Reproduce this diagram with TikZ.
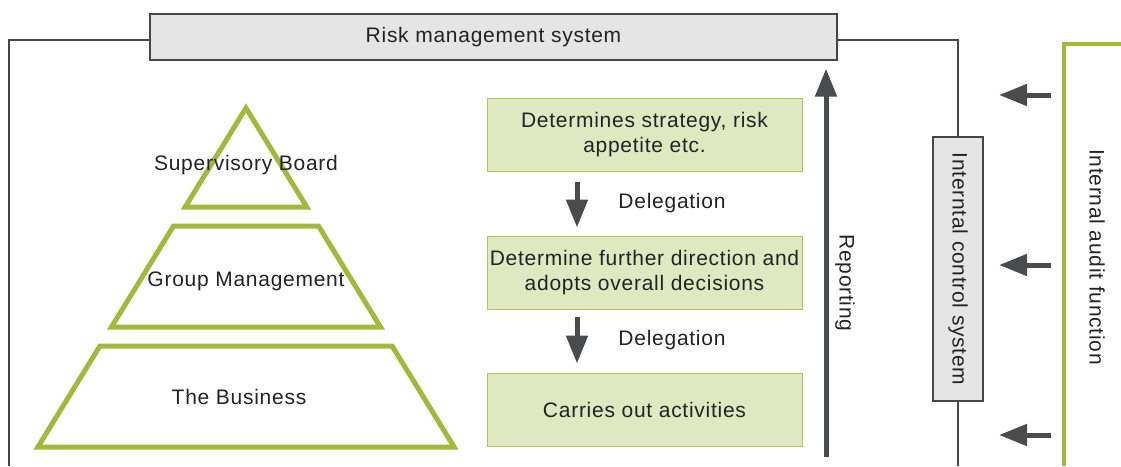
\documentclass[tikz,border=0pt]{standalone}
\usepackage{fontspec}
\setmainfont[LetterSpace=3.5]{Liberation Sans}
\usetikzlibrary{arrows.meta,positioning}

\definecolor{boxgray}{RGB}{228,229,228}
\definecolor{framegray}{RGB}{70,70,70}
\definecolor{leafgreen}{RGB}{224,232,193}
\definecolor{leafborder}{RGB}{175,195,95}
\definecolor{auditgreen}{RGB}{163,185,62}
\definecolor{arrowgray}{RGB}{74,75,77}
\definecolor{textgray}{RGB}{35,35,35}

\begin{document}
\begin{tikzpicture}[x=1pt, y=-1pt, font=\fontsize{21}{25.5}\selectfont, text=textgray,
  graybox/.style  = {draw=framegray, line width=1.3pt, fill=boxgray, inner sep=0pt},
  greenbox/.style = {draw=leafborder, line width=1pt, fill=leafgreen, inner sep=0pt,
                     minimum width=315pt, minimum height=73pt, align=center},
  fatarrow/.style = {draw=arrowgray, line width=5pt, -{Triangle[width=21pt, length=28pt]}},
  frameline/.style = {draw=framegray, line width=1.3pt},
  level/.style    = {draw=auditgreen, line width=5pt, line join=miter}]

% The page is the size of the reference, everything else is cut to it
\useasboundingbox (0,0) rectangle (1121,466);
\clip (0,0) rectangle (1121,466);

% Reference points (pixels of the reference, measured from the top left corner)
\coordinate (left corner)  at (9, 40);
\coordinate (left foot)    at (9, 466);
\coordinate (right corner) at (958, 40);
\coordinate (right foot)   at (958, 466);
\coordinate (audit corner) at (1064, 44);
\coordinate (audit foot)   at (1064, 466);
\coordinate (audit end)    at (1121, 44);
\coordinate (report foot)  at (826, 457);
\coordinate (deleg axis)   at (577, 0);

% Boxes of the framework
\node[graybox, minimum width=687pt, minimum height=46pt] (risk) at (493.5, 37) {Risk management system};
% (rotated: its west anchor is the top, its east anchor the bottom)
\node[graybox, rotate=-90, minimum width=264pt, minimum height=50pt] (ics) at (958, 269) {Interntal control system};

% Frame lines round the picture
\draw[frameline] (risk.west |- left corner) -- (left corner) -- (left foot);
\draw[frameline] (risk.east |- right corner) -- (right corner) -- (ics.west);
\draw[frameline] (ics.east) -- (right foot);

% Internal audit
\draw[level, line width=4pt] (audit foot) -- (audit corner) -- (audit end);
\node[rotate=-90] (audit) at (1097, 257) {Internal audit function};
\foreach \i/\y in {1/95, 2/265, 3/435} {
  \coordinate (audit tail \i) at (1051, \y);
  \coordinate (audit tip \i)  at (999, \y);
  \draw[fatarrow] (audit tail \i) -- (audit tip \i);
}

% The pyramid (three slices of one triangle)
\draw[level] (246,108) -- (306.8,207) -- (185.2,207) -- cycle;
\draw[level] (173.5,226) -- (318.5,226) -- (380.5,327) -- (111.5,327) -- cycle;
\draw[level] (99.9,346) -- (392.1,346) -- (454.1,447) -- (37.9,447) -- cycle;
\node (sup board)  at (246, 165) {Supervisory Board};
\node (group mgmt) at (246, 281) {Group Management};
\node (business)   at (239, 397) {The Business};

% Tasks and delegation
\node[greenbox] (strategy)  at (644.5, 134.5) {Determines strategy, risk\\appetite etc.};
\node[greenbox] (direction) at (644.5, 272.5) {Determine further direction and\\adopts overall decisions};
\node[greenbox] (activity)  at (644.5, 409.5) {Carries out activities};

\draw[fatarrow, shorten <=10pt, shorten >=8pt] (strategy.south -| deleg axis) -- (direction.north -| deleg axis);
\draw[fatarrow, shorten <=7pt, shorten >=9pt] (direction.south -| deleg axis) -- (activity.north -| deleg axis);
\node (deleg one) at (672, 203) {Delegation};
\node (deleg two) at (672, 340) {Delegation};

% Reporting
\draw[fatarrow, shorten >=8pt] (report foot) -- (risk.south -| report foot);
\node[rotate=-90] (reporting) at (845, 283) {Reporting};

\end{tikzpicture}
\end{document}
